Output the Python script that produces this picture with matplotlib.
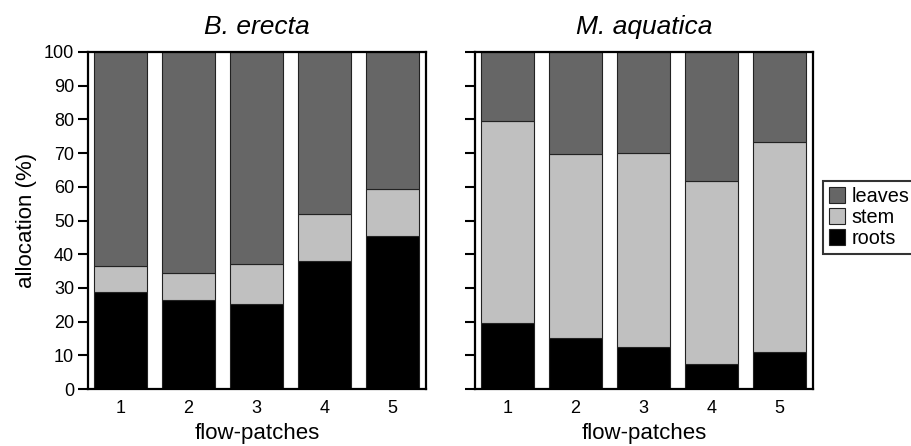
import matplotlib
matplotlib.use("Agg")
import matplotlib.pyplot as plt
import numpy as np

plt.rcParams['font.family'] = ['Liberation Sans', 'DejaVu Sans']

patches = [1, 2, 3, 4, 5]
species = ["B. erecta", "M. aquatica"]
roots_b = [28.8, 26.5, 25.1, 38.0, 45.4]
stem_b = [7.7, 7.8, 12.1, 13.8, 13.8]
leaves_b = [63.5, 65.7, 62.8, 48.2, 40.8]

roots_m = [19.7, 15.1, 12.6, 7.4, 10.9]
stem_m = [59.9, 54.5, 57.5, 54.4, 62.4]
leaves_m = [20.4, 30.4, 29.9, 38.2, 26.7]

data = [(roots_b, stem_b, leaves_b), (roots_m, stem_m, leaves_m)]
colors = {"roots": "#000000", "stem": "#c0c0c0", "leaves": "#666666"}

fig = plt.figure(figsize=(9.12, 4.46), dpi=100)
ax1 = fig.add_axes([88/912, (446-389)/446, (426-88)/912, 337/446])
ax2 = fig.add_axes([475/912, (446-389)/446, (813-475)/912, 337/446])

for i, (ax, sp, (r, s, l)) in enumerate(zip([ax1, ax2], species, data)):
    x = np.array(patches)
    r = np.array(r); s = np.array(s); l = np.array(l)
    w = 0.78
    ax.bar(x, r, width=w, color=colors["roots"], edgecolor="#222222", linewidth=0.8, label="roots")
    ax.bar(x, s, width=w, bottom=r, color=colors["stem"], edgecolor="#222222", linewidth=0.8, label="stem")
    ax.bar(x, l, width=w, bottom=r + s, color=colors["leaves"], edgecolor="#222222", linewidth=0.8, label="leaves")
    ax.set_xlim(0.52, 5.5)
    ax.set_ylim(0, 100)
    ax.set_yticks(np.arange(0, 101, 10))
    ax.set_xticks(patches)
    ax.tick_params(axis='x', length=0, labelsize=13, pad=8)
    ax.tick_params(axis='y', direction='out', length=7, width=1.5, labelsize=13, pad=3)
    for sp_ in ax.spines.values():
        sp_.set_linewidth(1.6)
    ax.set_xlabel("flow-patches", fontsize=16, labelpad=4)
    ax.set_title(sp, fontsize=19, style='italic', pad=13)
    if i == 0:
        ax.set_ylabel("allocation (%)", fontsize=16, labelpad=5)
    else:
        ax.set_yticklabels([])

h, lab = ax2.get_legend_handles_labels()
leg = fig.legend(h[::-1], lab[::-1], loc='upper left', bbox_to_anchor=(823/912, (446-181)/446),
                 fontsize=14.3, frameon=True, fancybox=False, edgecolor='black',
                 handlelength=0.8, handleheight=0.8, handletextpad=0.35, borderpad=0.3,
                 labelspacing=0.1, borderaxespad=0)
leg.get_frame().set_linewidth(1.5)

fig.savefig("out.png", dpi=100)
